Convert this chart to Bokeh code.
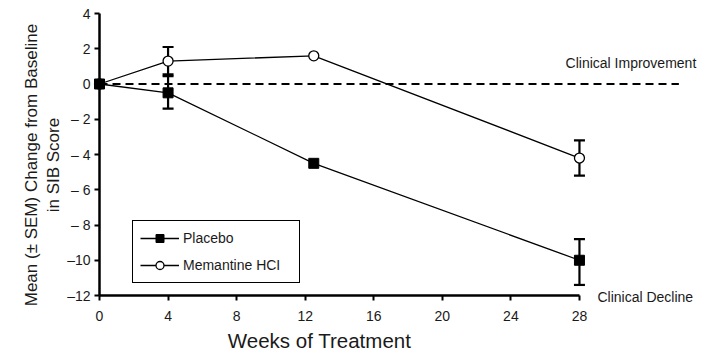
from bokeh.plotting import figure
from bokeh.models import (ColumnDataSource, Whisker, TeeHead, Label, Legend, LegendItem,
                          FixedTicker, Range1d, LinearAxis)
from bokeh.embed import file_html
from bokeh.resources import INLINE
import math

# ---- data ----
weeks_placebo = [0, 4, 12.5, 28]
placebo_mean = [0, -0.5, -4.5, -10.0]
weeks_mem = [0, 4, 12.5, 28]
mem_mean = [0, 1.3, 1.6, -4.2]

err_weeks_placebo = [4, 28]
err_placebo_upper = [0.45, -8.8]
err_placebo_lower = [-1.4, -11.4]
err_weeks_mem = [4, 28]
err_mem_upper = [2.1, -3.2]
err_mem_lower = [0.55, -5.2]

x_ticks = [0, 4, 8, 12, 16, 20, 24, 28]
y_ticks = [4, 2, 0, -2, -4, -6, -8, -10, -12]
y_tick_labels = ["4", "2", "0", "\u2013 2", "\u2013 4", "\u2013 6", "\u2013 8", "\u201310", "\u201312"]

FONT = "Liberation Sans"
TXT = "#1a1a1a"

p = figure(width=713, height=358, output_backend="svg", toolbar_location=None,
           x_range=Range1d(-5.776, 35.82), y_range=Range1d(-15.574, 4.738),
           x_axis_location=None, y_axis_location=None,
           min_border_left=0, min_border_right=0, min_border_top=0, min_border_bottom=0)
p.outline_line_color = None
p.grid.visible = False
p.background_fill_color = "white"

# axes (fixed inside the frame, which covers the whole canvas)
xax = LinearAxis(fixed_location=-12, ticker=FixedTicker(ticks=x_ticks), bounds=(0, 28),
                 axis_line_width=2.5, major_tick_line_width=2, major_tick_out=5,
                 major_tick_in=0, minor_tick_line_color=None,
                 major_label_text_font=FONT, major_label_text_font_size="14px",
                 major_label_standoff=10, major_label_text_color=TXT)
yax = LinearAxis(fixed_location=0, ticker=FixedTicker(ticks=y_ticks), bounds=(-12, 4),
                 major_label_overrides={t: l for t, l in zip(y_ticks, y_tick_labels)},
                 axis_line_width=2.5, major_tick_line_width=2, major_tick_out=5,
                 major_tick_in=0, minor_tick_line_color=None,
                 major_label_text_font=FONT, major_label_text_font_size="14px",
                 major_label_standoff=4, major_label_text_color=TXT)
p.add_layout(xax, "below")
p.add_layout(yax, "left")

# zero reference line
p.line(x=[0, 33.8], y=[0, 0], line_color="black", line_width=2, line_dash="8 5")

# error bars
src_pe = ColumnDataSource(dict(x=err_weeks_placebo, up=err_placebo_upper, lo=err_placebo_lower))
src_me = ColumnDataSource(dict(x=err_weeks_mem, up=err_mem_upper, lo=err_mem_lower))
for src in (src_me, src_pe):
    w = Whisker(base="x", upper="up", lower="lo", source=src, dimension="height",
                line_width=2.2, line_color="black",
                upper_head=TeeHead(size=11, line_width=2.2, line_color="black"),
                lower_head=TeeHead(size=11, line_width=2.2, line_color="black"))
    p.add_layout(w)

# series
src_m = ColumnDataSource(dict(x=weeks_mem, y=mem_mean))
src_p = ColumnDataSource(dict(x=weeks_placebo, y=placebo_mean))
lm = p.line("x", "y", source=src_m, line_color="black", line_width=1.3)
sm = p.scatter("x", "y", source=src_m, marker="circle", size=10, fill_color="white",
               line_color="black", line_width=1.3, level="overlay")
lp = p.line("x", "y", source=src_p, line_color="black", line_width=1.3)
sp = p.scatter("x", "y", source=src_p, marker="square", size=10, fill_color="black",
               line_color="black", level="overlay")

legend = Legend(items=[LegendItem(label="Placebo", renderers=[lp, sp]),
                       LegendItem(label="Memantine HCI\u00a0\u00a0\u00a0", renderers=[lm, sm])],
                location=(132, 75), glyph_width=39, glyph_height=20, label_height=20,
                label_standoff=4, spacing=7, padding=7, margin=0,
                label_text_font=FONT, label_text_font_size="14px", label_text_color=TXT,
                border_line_color="black", border_line_width=1.5, border_line_alpha=1,
                background_fill_color="white", background_fill_alpha=1)
p.add_layout(legend)

# texts (data units)
def label(x, y, text, size, **kw):
    p.add_layout(Label(x=x, y=y, text=text, text_font=FONT, text_font_size=size,
                       text_color=TXT, **kw))

label(27.19, 1.22, "Clinical Improvement", "14px", text_baseline="middle")
label(29.05, -12.06, "Clinical Decline", "14px", text_baseline="middle")
label(12.836, -14.553, "Weeks of Treatment", "20.5px", text_align="center", text_baseline="middle")
label(-3.94, -4.6, "Mean (\u00b1 SEM) Change from Baseline", "17px",
      angle=math.pi / 2, text_align="center", text_baseline="middle")
label(-2.68, -4.6, "in SIB Score", "17px",
      angle=math.pi / 2, text_align="center", text_baseline="middle")

open("out.html", "w").write(file_html(p, INLINE))
